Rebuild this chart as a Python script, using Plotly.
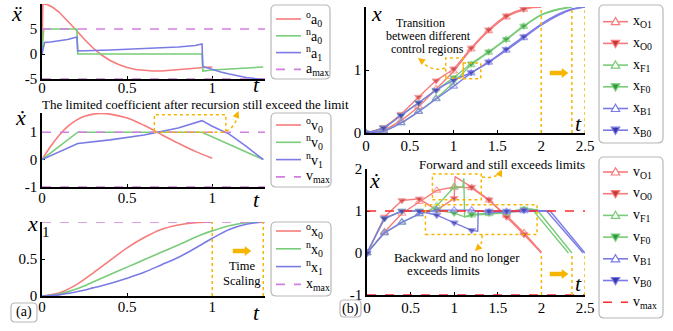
import plotly.graph_objects as go

W, H = 673, 331
def fx(px): return px / W
def fy(py): return 1 - py / H

SERIF = "Liberation Serif"
RED, GREEN, BLUE, MAG = "#f77b7b", "#79cc79", "#7b7be6", "#d27ee0"
RED_D, GREEN_D, BLUE_D = "#c43838", "#2f9a3a", "#3838a8"
ORANGE = "#f7b500"
VRED = "#ff2a2a"

# ---------------- (a) left panels data ----------------
t_oa = [0, 0.005, 0.03, 0.06, 0.1, 0.15, 0.2, 0.25, 0.3, 0.35, 0.4, 0.45, 0.5, 0.55, 0.6, 0.65, 0.7, 0.75, 0.8, 0.85, 0.9, 0.95, 1.0]
oa0 = [0, 10, 9.9, 9.4, 8.4, 6.7, 4.8, 2.9, 1.2, -0.2, -1.3, -2.1, -2.7, -3.1, -3.3, -3.4, -3.4, -3.3, -3.2, -3.0, -2.85, -2.7, -2.6]
t_na0 = [0, 0.01, 0.205, 0.21, 0.94, 0.945, 1.0, 1.1, 1.2, 1.3]
na0 = [0, 5, 5, 0, 0, -3.4, -3.2, -2.95, -2.75, -2.6]
t_na1 = [0, 0.015, 0.05, 0.1, 0.15, 0.205, 0.21, 0.4, 0.6, 0.8, 0.9, 0.94, 0.945, 1.0, 1.05, 1.1, 1.15, 1.2, 1.25, 1.3]
na1 = [0, 2.3, 2.4, 2.6, 2.9, 3.4, 0.6, 0.8, 1.05, 1.4, 1.7, 2.0, -2.5, -3.1, -3.6, -4.0, -4.4, -4.7, -4.9, -5.0]
a_max = 5

t_ov = [0, 0.05, 0.1, 0.15, 0.2, 0.25, 0.3, 0.35, 0.4, 0.5, 0.6, 0.7, 0.8, 0.9, 1.0]
ov0 = [0, 0.48, 0.88, 1.2, 1.43, 1.58, 1.66, 1.68, 1.66, 1.52, 1.25, 0.92, 0.6, 0.3, 0.05]
t_nv0 = [0, 0.21, 0.94, 1.3]
nv0 = [0, 1, 1, 0]
t_nv1 = [0, 0.21, 0.4, 0.6, 0.8, 0.94, 1.0, 1.1, 1.2, 1.3]
nv1 = [0, 0.59, 0.72, 0.9, 1.15, 1.42, 1.22, 0.93, 0.48, 0]
v_max = 1

t_ox = [0, 0.1, 0.2, 0.3, 0.4, 0.5, 0.6, 0.7, 0.8, 0.9, 1.0]
ox0 = [0, 0.04, 0.15, 0.31, 0.48, 0.65, 0.79, 0.9, 0.96, 0.99, 1.0]
t_nx = [0, 0.1, 0.21, 0.3, 0.4, 0.5, 0.6, 0.7, 0.8, 0.94, 1.0, 1.1, 1.2, 1.3]
nx0 = [0, 0.025, 0.1, 0.19, 0.29, 0.39, 0.49, 0.59, 0.69, 0.83, 0.88, 0.95, 0.99, 1.0]
nx1 = [0, 0.015, 0.06, 0.11, 0.17, 0.24, 0.32, 0.42, 0.52, 0.7, 0.78, 0.9, 0.97, 1.0]
x_max = 1
t_scale = [1.0, 1.3]

# ---------------- (b) right panels data ----------------
tO = [0, 0.2, 0.4, 0.6, 0.8, 1.0, 1.2, 1.4, 1.6, 1.8, 1.9, 2.0]
xO1 = [0, 0.05, 0.2, 0.42, 0.7, 0.98, 1.33, 1.62, 1.84, 1.96, 1.99, 2.0]
xO0 = [0, 0.09, 0.3, 0.57, 0.83, 1.02, 1.35, 1.64, 1.86, 1.97, 1.995, 2.0]
tF = [0, 0.2, 0.4, 0.6, 0.8, 1.0, 1.2, 1.4, 1.6, 1.8, 2.0, 2.2, 2.35]
xF1 = [0, 0.03, 0.16, 0.34, 0.55, 0.8, 1.08, 1.28, 1.48, 1.69, 1.87, 1.96, 2.0]
xF0 = [0, 0.08, 0.28, 0.48, 0.68, 0.88, 1.1, 1.29, 1.49, 1.7, 1.88, 1.97, 2.0]
tB = [0, 0.2, 0.4, 0.6, 0.8, 1.0, 1.2, 1.4, 1.6, 1.8, 2.0, 2.2, 2.35, 2.5]
xB1 = [0, 0.03, 0.16, 0.34, 0.54, 0.74, 0.95, 1.12, 1.31, 1.51, 1.71, 1.87, 1.96, 2.0]
xB0 = [0, 0.08, 0.28, 0.48, 0.68, 0.84, 0.96, 1.13, 1.33, 1.53, 1.73, 1.89, 1.97, 2.0]

t_vO1 = [0, 0.2, 0.4, 0.6, 0.8, 1.0, 1.2, 1.4, 1.6, 1.8, 2.0]
vO1 = [0, 0.5, 0.94, 1.22, 1.49, 1.57, 1.55, 1.25, 0.89, 0.48, 0.02]
t_vO0 = [0, 0.2, 0.4, 0.6, 0.8, 1.0, 1.01, 1.2, 1.4, 1.6, 1.8, 2.0]
vO0 = [0, 0.86, 1.25, 1.29, 1.02, 1.3, 1.82, 1.57, 1.27, 0.86, 0.44, 0]
t_vF1 = [0, 0.2, 0.4, 0.6, 0.7, 0.8, 1.0, 1.1, 1.11, 1.12, 1.2, 1.4, 1.6, 1.8, 1.89, 2.31]
vF1 = [0, 0.48, 0.73, 0.93, 1.0, 1.12, 1.57, 1.58, 1.78, 0.86, 0.9, 0.93, 0.96, 1.03, 1.05, 0]
t_vF0 = [0, 0.2, 0.4, 0.6, 0.8, 1.0, 1.12, 1.2, 1.4, 1.6, 1.8, 1.95, 2.35]
vF0 = [0, 0.82, 1.0, 1.0, 1.02, 0.95, 0.86, 0.92, 0.95, 0.97, 1.05, 1.03, 0]
t_vB1 = [0, 0.2, 0.4, 0.6, 0.8, 1.0, 1.2, 1.4, 1.6, 1.8, 2.06, 2.48]
vB1 = [0, 0.48, 0.73, 0.93, 1.02, 1.02, 1.02, 0.97, 0.98, 1.0, 1.0, 0]
t_vB0 = [0, 0.2, 0.4, 0.6, 0.8, 1.0, 1.2, 1.27, 1.275, 1.4, 1.6, 1.8, 2.1, 2.5]
vB0 = [0, 0.82, 1.0, 1.0, 0.9, 0.72, 0.54, 0.52, 1.0, 1.0, 1.0, 1.02, 1.0, 0]
t_ends = [2.0, 2.35, 2.5]

fig = go.Figure()

def add_line(x, y, color, ax, dash=None, shape="linear", width=1.6):
    fig.add_trace(go.Scatter(x=x, y=y, mode="lines", showlegend=False,
                             line=dict(color=color, width=width, dash=dash, shape=shape),
                             xaxis="x" + ax, yaxis="y" + ax, hoverinfo="skip"))

add_line(t_oa, oa0, RED, "")
add_line(t_na0, na0, GREEN, "")
add_line(t_na1, na1, BLUE, "")
add_line([0, 1.31, None, 0, 1.31], [a_max, a_max, None, -a_max, -a_max], MAG, "", dash="dash")
add_line(t_ov, ov0, RED, "2", shape="spline")
add_line(t_nv0, nv0, GREEN, "2")
add_line(t_nv1, nv1, BLUE, "2")
add_line([0, 1.31, None, 0, 1.31], [v_max, v_max, None, -v_max, -v_max], MAG, "2", dash="dash")
add_line(t_ox, ox0, RED, "3", shape="spline")
add_line(t_nx, nx0, GREEN, "3", shape="spline")
add_line(t_nx, nx1, BLUE, "3", shape="spline")
add_line([0, 1.31], [x_max, x_max], MAG, "3", dash="dash")

def msz(ts, size=7):
    return [size if abs(t * 5 - round(t * 5)) < 1e-6 and t <= 1.8 + 1e-9 else 0 for t in ts]

def add_mk(x, y, color, dark, filled, ax, shape="linear"):
    if filled:
        mk = dict(symbol="triangle-down", color=dark, line=dict(color=color, width=1))
    else:
        mk = dict(symbol="triangle-up-open", color=color, line=dict(color=color, width=1.2))
    fig.add_trace(go.Scatter(x=x, y=y, mode="lines+markers", showlegend=False,
                             line=dict(color=color, width=1.4, shape=shape, smoothing=0.7),
                             marker=dict(size=msz(x), **mk),
                             xaxis="x" + ax, yaxis="y" + ax, hoverinfo="skip"))

add_mk(tO, xO1, RED, RED_D, False, "4", "spline")
add_mk(tO, xO0, RED, RED_D, True, "4", "spline")
add_mk(tF, xF1, GREEN, GREEN_D, False, "4", "spline")
add_mk(tF, xF0, GREEN, GREEN_D, True, "4", "spline")
add_mk(tB, xB1, BLUE, BLUE_D, False, "4", "spline")
add_mk(tB, xB0, BLUE, BLUE_D, True, "4", "spline")

add_mk(t_vO1, vO1, RED, RED_D, False, "5")
add_mk(t_vO0, vO0, RED, RED_D, True, "5")
add_mk(t_vF1, vF1, GREEN, GREEN_D, False, "5")
add_mk(t_vF0, vF0, GREEN, GREEN_D, True, "5")
add_mk(t_vB1, vB1, BLUE, BLUE_D, False, "5")
add_mk(t_vB0, vB0, BLUE, BLUE_D, True, "5")
add_line([0, 2.5, None, 0, 2.5], [v_max, v_max, None, -v_max, -v_max], VRED, "5", dash="dash")

# ---------------- axes ----------------
tickfont = dict(family=SERIF, size=15, color="black")
def axis(domain, rng, tickvals, anchor, standoff=0):
    return dict(domain=domain, range=rng, tickvals=tickvals, ticktext=[("%g" % v) for v in tickvals],
                showline=True, linecolor="black", linewidth=1.5, ticks="inside", ticklen=3,
                tickcolor="black", showgrid=False, zeroline=False, tickfont=tickfont,
                anchor=anchor, layer="below traces", fixedrange=True, automargin=False,
                ticklabelstandoff=standoff)

xa_dom = [fx(42), fx(265)]
layout = dict(
    width=W, height=H, margin=dict(l=0, r=0, t=0, b=0, autoexpand=False),
    paper_bgcolor="white", plot_bgcolor="white", showlegend=False,
    xaxis=axis(xa_dom, [0, 1.31], [0, 0.5, 1], "y", -6),
    yaxis=axis([fy(79), fy(4)], [-5, 10], [-5, 0, 5], "x"),
    xaxis2=axis(xa_dom, [0, 1.31], [0, 0.5, 1], "y2", -4),
    yaxis2=axis([fy(187), fy(113)], [-1, 1.7], [-1, 0, 1], "x2"),
    xaxis3=axis(xa_dom, [0, 1.31], [0, 0.5, 1], "y3", -4),
    yaxis3=axis([fy(296), fy(222)], [0, 1.0], [0, 0.5], "x3"),
    xaxis4=axis([fx(366), fx(585)], [0, 2.5], [0, 0.5, 1, 1.5, 2, 2.5], "y4", -2),
    yaxis4=axis([fy(133), fy(7)], [0, 2], [0, 1, 2], "x4"),
    xaxis5=axis([fx(367), fx(585)], [0, 2.5], [0, 0.5, 1, 1.5, 2, 2.5], "y5", -2),
    yaxis5=axis([fy(295), fy(169)], [-1, 2], [-1, 0, 1, 2], "x5"),
)
fig.update_layout(**layout)

# ---------------- helpers ----------------
def rbox(x0, y0, x1, y1, r=5):
    X0, X1 = fx(x0), fx(x1)
    Y0, Y1 = fy(y0), fy(y1)
    rx, ry = r / W, r / H
    p = (f"M {X0+rx},{Y0} L {X1-rx},{Y0} Q {X1},{Y0} {X1},{Y0-ry} L {X1},{Y1+ry} Q {X1},{Y1} {X1-rx},{Y1} "
         f"L {X0+rx},{Y1} Q {X0},{Y1} {X0},{Y1+ry} L {X0},{Y0-ry} Q {X0},{Y0} {X0+rx},{Y0} Z")
    fig.add_shape(type="path", path=p, xref="paper", yref="paper", line=dict(color="#b8b8b8", width=1.2))

def txt(px, py, s, size=12, italic=False, xanchor="center"):
    fig.add_annotation(x=fx(px), y=fy(py), xref="paper", yref="paper", text=s, showarrow=False,
                       xanchor=xanchor, yanchor="middle",
                       font=dict(family=SERIF, size=size, color="black",
                                 style="italic" if italic else "normal"))

def tri(cx, cy, up, fill, edge):
    if up:
        pts = [(cx, cy - 4.2), (cx - 4.2, cy + 3), (cx + 4.2, cy + 3)]
    else:
        pts = [(cx, cy + 4.2), (cx - 4.2, cy - 3), (cx + 4.2, cy - 3)]
    p = "M " + " L ".join(f"{fx(a)},{fy(b)}" for a, b in pts) + " Z"
    fig.add_shape(type="path", path=p, xref="paper", yref="paper",
                  fillcolor=fill, line=dict(color=edge, width=1.2))

def legend_block(box, x0, length, y0, dy, entries, fsize=14):
    rbox(*box)
    for i, (name, color, dash, mk, dark) in enumerate(entries):
        y = y0 + i * dy
        fig.add_shape(type="line", xref="paper", yref="paper", x0=fx(x0), x1=fx(x0 + length),
                      y0=fy(y), y1=fy(y), line=dict(color=color, width=1.6, dash=dash))
        if mk == "open":
            tri(x0 + length / 2, y, True, "white", color)
        elif mk == "filled":
            tri(x0 + length / 2, y, False, dark, color)
        txt(x0 + length + 3, y, name, fsize, xanchor="left")

legend_block((271, 5, 330, 79), 276, 25, 19, 16.8, [
    ("<sup>o</sup>a<sub>0</sub>", RED, None, None, None),
    ("<sup>n</sup>a<sub>0</sub>", GREEN, None, None, None),
    ("<sup>n</sup>a<sub>1</sub>", BLUE, None, None, None),
    ("a<sub>max</sub>", MAG, "dash", None, None)])
legend_block((271, 113, 331, 187), 276, 25, 125, 17.3, [
    ("<sup>o</sup>v<sub>0</sub>", RED, None, None, None),
    ("<sup>n</sup>v<sub>0</sub>", GREEN, None, None, None),
    ("<sup>n</sup>v<sub>1</sub>", BLUE, None, None, None),
    ("v<sub>max</sub>", MAG, "dash", None, None)])
legend_block((271, 222, 331, 296), 276, 25, 231, 17.8, [
    ("<sup>o</sup>x<sub>0</sub>", RED, None, None, None),
    ("<sup>n</sup>x<sub>0</sub>", GREEN, None, None, None),
    ("<sup>n</sup>x<sub>1</sub>", BLUE, None, None, None),
    ("x<sub>max</sub>", MAG, "dash", None, None)])
legend_block((599, 5, 663, 143), 603, 25, 21.7, 21.7, [
    ("x<sub>O1</sub>", RED, None, "open", RED_D),
    ("x<sub>O0</sub>", RED, None, "filled", RED_D),
    ("x<sub>F1</sub>", GREEN, None, "open", GREEN_D),
    ("x<sub>F0</sub>", GREEN, None, "filled", GREEN_D),
    ("x<sub>B1</sub>", BLUE, None, "open", BLUE_D),
    ("x<sub>B0</sub>", BLUE, None, "filled", BLUE_D)])
legend_block((599, 157, 663, 318), 603, 25, 172, 21.7, [
    ("v<sub>O1</sub>", RED, None, "open", RED_D),
    ("v<sub>O0</sub>", RED, None, "filled", RED_D),
    ("v<sub>F1</sub>", GREEN, None, "open", GREEN_D),
    ("v<sub>F0</sub>", GREEN, None, "filled", GREEN_D),
    ("v<sub>B1</sub>", BLUE, None, "open", BLUE_D),
    ("v<sub>B0</sub>", BLUE, None, "filled", BLUE_D),
    ("v<sub>max</sub>", VRED, "dash", None, None)])

rbox(11, 303, 37, 322, r=4)
rbox(340, 300, 361, 317, r=4)

dot = dict(color=ORANGE, width=1.5, dash="dot")
for tv in t_scale:
    fig.add_shape(type="line", x0=tv, x1=tv, y0=0, y1=x_max, xref="x3", yref="y3", line=dot)
for tv in t_ends:
    fig.add_shape(type="line", x0=tv, x1=tv, y0=0, y1=2, xref="x4", yref="y4", line=dot)
    fig.add_shape(type="line", x0=tv, x1=tv, y0=-1, y1=0, xref="x5", yref="y5", line=dot)

fig.add_shape(type="rect", x0=0.66, x1=1.08, y0=1.0, y1=1.64, xref="x2", yref="y2", line=dot)
fig.add_shape(type="rect", x0=0.91, x1=1.11, y0=0.87, y1=1.19, xref="x4", yref="y4", line=dot)
fig.add_shape(type="rect", x0=1.11, x1=1.31, y0=0.86, y1=1.11, xref="x4", yref="y4", line=dot)
fig.add_shape(type="rect", x0=0.75, x1=1.31, y0=1.27, y1=1.88, xref="x5", yref="y5", line=dot)
fig.add_shape(type="rect", x0=0.67, x1=1.95, y0=0.44, y1=1.15, xref="x5", yref="y5", line=dot)

def curve(p0, c, p1):
    fig.add_shape(type="path", xref="paper", yref="paper", line=dot,
                  path=f"M {fx(p0[0])},{fy(p0[1])} Q {fx(c[0])},{fy(c[1])} {fx(p1[0])},{fy(p1[1])}")

def head(px, py, ax, ay):
    fig.add_annotation(x=fx(px), y=fy(py), xref="paper", yref="paper", text="", showarrow=True,
                       ax=ax, ay=ay, arrowhead=2, arrowsize=1, arrowwidth=1.4, arrowcolor=ORANGE)

curve((226, 131), (236, 127), (238, 113)); head(238.5, 111, -2, 5)
curve((445, 68), (432, 73), (419, 59)); head(418, 58, 4, 3)
curve((482, 177), (497, 179), (501, 171)); head(502, 169.5, -2, 4)
curve((482, 235), (483, 245), (476, 250)); head(475, 251, 3, -3)

def big_arrow(px, py):
    pts = [(px - 18, py - 2), (px - 6, py - 2), (px - 6, py - 4.5), (px, py),
           (px - 6, py + 4.5), (px - 6, py + 2), (px - 18, py + 2)]
    p = "M " + " L ".join(f"{fx(a)},{fy(b)}" for a, b in pts) + " Z"
    fig.add_shape(type="path", path=p, xref="paper", yref="paper", fillcolor=ORANGE,
                  line=dict(color=ORANGE, width=0.5))
big_arrow(251, 251)
big_arrow(568, 73)
big_arrow(568, 274)

txt(40, 104, "The limited coefficient after recursion still exceed the limit", 13, xanchor="left")
txt(242, 266, "Time", 12.5)
txt(242, 281, "Scaling", 12.5)
txt(420, 23, "Transition", 12)
txt(428, 36, "between different", 12)
txt(427, 49, "control regions", 12)
txt(502, 164, "Forward and still exceeds limits", 13)
txt(457, 257.5, "Backward and no longer", 12.8)
txt(443, 271, "exceeds limits", 12.8)
txt(24, 312, "(a)", 14)
txt(350, 309, "(b)", 14)
txt(46, 232, "1", 15)

for (px, py) in [(256, 85), (256, 199), (256, 312), (578, 123), (578, 283)]:
    txt(px, py, "t", 22, italic=True)
txt(16, 14, "ẍ", 22, italic=True)
txt(20, 117, "ẋ", 22, italic=True)
txt(32, 223, "x", 22, italic=True)
txt(376, 14, "x", 22, italic=True)
txt(374, 180, "ẋ", 22, italic=True)

fig.write_html("out.html", config={"displayModeBar": False},
               post_script="document.body.style.margin='0';document.body.style.padding='0';")
